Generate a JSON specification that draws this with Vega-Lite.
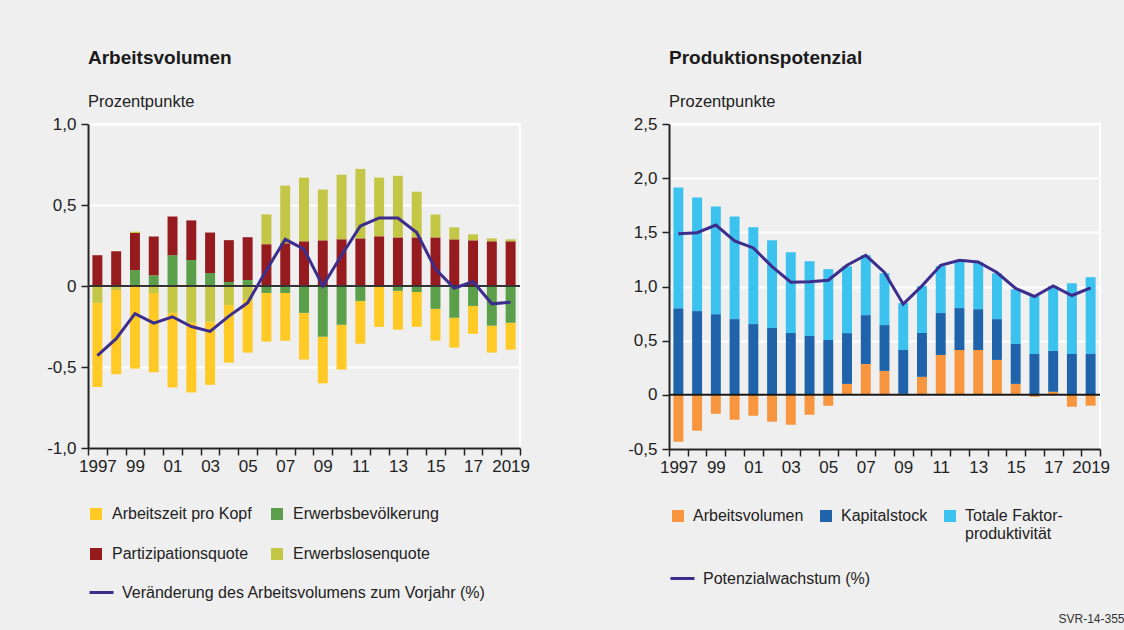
{
  "$schema": "https://vega.github.io/schema/vega-lite/v6.json",
  "background": "#efefef",
  "padding": {"left": 45, "top": 47, "right": 30, "bottom": 40},
  "datasets": {
    "arb": [
      {"year": 1997, "Arbeitszeit pro Kopf": -0.52, "Erwerbsbevölkerung": 0, "Partizipationsquote": 0.19, "Erwerbslosenquote": -0.104, "line": -0.43},
      {"year": 1998, "Arbeitszeit pro Kopf": -0.52, "Erwerbsbevölkerung": 0, "Partizipationsquote": 0.215, "Erwerbslosenquote": -0.025, "line": -0.325},
      {"year": 1999, "Arbeitszeit pro Kopf": -0.51, "Erwerbsbevölkerung": 0.098, "Partizipationsquote": 0.229, "Erwerbslosenquote": 0.008, "line": -0.17},
      {"year": 2000, "Arbeitszeit pro Kopf": -0.49, "Erwerbsbevölkerung": 0.067, "Partizipationsquote": 0.239, "Erwerbslosenquote": -0.043, "line": -0.229},
      {"year": 2001, "Arbeitszeit pro Kopf": -0.46, "Erwerbsbevölkerung": 0.19, "Partizipationsquote": 0.239, "Erwerbslosenquote": -0.166, "line": -0.19},
      {"year": 2002, "Arbeitszeit pro Kopf": -0.43, "Erwerbsbevölkerung": 0.16, "Partizipationsquote": 0.245, "Erwerbslosenquote": -0.227, "line": -0.25},
      {"year": 2003, "Arbeitszeit pro Kopf": -0.39, "Erwerbsbevölkerung": 0.08, "Partizipationsquote": 0.25, "Erwerbslosenquote": -0.22, "line": -0.28},
      {"year": 2004, "Arbeitszeit pro Kopf": -0.356, "Erwerbsbevölkerung": 0.025, "Partizipationsquote": 0.258, "Erwerbslosenquote": -0.117, "line": -0.186},
      {"year": 2005, "Arbeitszeit pro Kopf": -0.325, "Erwerbsbevölkerung": 0.037, "Partizipationsquote": 0.264, "Erwerbslosenquote": -0.086, "line": -0.104},
      {"year": 2006, "Arbeitszeit pro Kopf": -0.30, "Erwerbsbevölkerung": -0.043, "Partizipationsquote": 0.258, "Erwerbslosenquote": 0.184, "line": 0.098},
      {"year": 2007, "Arbeitszeit pro Kopf": -0.295, "Erwerbsbevölkerung": -0.043, "Partizipationsquote": 0.264, "Erwerbslosenquote": 0.356, "line": 0.288},
      {"year": 2008, "Arbeitszeit pro Kopf": -0.288, "Erwerbsbevölkerung": -0.166, "Partizipationsquote": 0.276, "Erwerbslosenquote": 0.393, "line": 0.227},
      {"year": 2009, "Arbeitszeit pro Kopf": -0.288, "Erwerbsbevölkerung": -0.313, "Partizipationsquote": 0.282, "Erwerbslosenquote": 0.313, "line": 0.0},
      {"year": 2010, "Arbeitszeit pro Kopf": -0.276, "Erwerbsbevölkerung": -0.239, "Partizipationsquote": 0.288, "Erwerbslosenquote": 0.399, "line": 0.19},
      {"year": 2011, "Arbeitszeit pro Kopf": -0.264, "Erwerbsbevölkerung": -0.092, "Partizipationsquote": 0.294, "Erwerbslosenquote": 0.429, "line": 0.37},
      {"year": 2012, "Arbeitszeit pro Kopf": -0.252, "Erwerbsbevölkerung": 0, "Partizipationsquote": 0.307, "Erwerbslosenquote": 0.362, "line": 0.42},
      {"year": 2013, "Arbeitszeit pro Kopf": -0.24, "Erwerbsbevölkerung": -0.03, "Partizipationsquote": 0.30, "Erwerbslosenquote": 0.38, "line": 0.42},
      {"year": 2014, "Arbeitszeit pro Kopf": -0.215, "Erwerbsbevölkerung": -0.037, "Partizipationsquote": 0.30, "Erwerbslosenquote": 0.282, "line": 0.33},
      {"year": 2015, "Arbeitszeit pro Kopf": -0.196, "Erwerbsbevölkerung": -0.141, "Partizipationsquote": 0.30, "Erwerbslosenquote": 0.141, "line": 0.104},
      {"year": 2016, "Arbeitszeit pro Kopf": -0.184, "Erwerbsbevölkerung": -0.196, "Partizipationsquote": 0.288, "Erwerbslosenquote": 0.074, "line": -0.014},
      {"year": 2017, "Arbeitszeit pro Kopf": -0.172, "Erwerbsbevölkerung": -0.123, "Partizipationsquote": 0.282, "Erwerbslosenquote": 0.037, "line": 0.027},
      {"year": 2018, "Arbeitszeit pro Kopf": -0.166, "Erwerbsbevölkerung": -0.245, "Partizipationsquote": 0.276, "Erwerbslosenquote": 0.018, "line": -0.11},
      {"year": 2019, "Arbeitszeit pro Kopf": -0.166, "Erwerbsbevölkerung": -0.227, "Partizipationsquote": 0.276, "Erwerbslosenquote": 0.012, "line": -0.10}
    ],
    "pot": [
      {"year": 1997, "Arbeitsvolumen": -0.433, "Kapitalstock": 0.80, "Totale Faktorproduktivität": 1.114, "line": 1.488},
      {"year": 1998, "Arbeitsvolumen": -0.331, "Kapitalstock": 0.773, "Totale Faktorproduktivität": 1.049, "line": 1.497},
      {"year": 1999, "Arbeitsvolumen": -0.175, "Kapitalstock": 0.745, "Totale Faktorproduktivität": 0.994, "line": 1.567},
      {"year": 2000, "Arbeitsvolumen": -0.23, "Kapitalstock": 0.699, "Totale Faktorproduktivität": 0.948, "line": 1.42},
      {"year": 2001, "Arbeitsvolumen": -0.193, "Kapitalstock": 0.653, "Totale Faktorproduktivität": 0.893, "line": 1.356},
      {"year": 2002, "Arbeitsvolumen": -0.248, "Kapitalstock": 0.617, "Totale Faktorproduktivität": 0.81, "line": 1.184},
      {"year": 2003, "Arbeitsvolumen": -0.276, "Kapitalstock": 0.571, "Totale Faktorproduktivität": 0.745, "line": 1.04},
      {"year": 2004, "Arbeitsvolumen": -0.184, "Kapitalstock": 0.543, "Totale Faktorproduktivität": 0.69, "line": 1.043},
      {"year": 2005, "Arbeitsvolumen": -0.101, "Kapitalstock": 0.506, "Totale Faktorproduktivität": 0.654, "line": 1.058},
      {"year": 2006, "Arbeitsvolumen": 0.101, "Kapitalstock": 0.469, "Totale Faktorproduktivität": 0.617, "line": 1.196},
      {"year": 2007, "Arbeitsvolumen": 0.285, "Kapitalstock": 0.451, "Totale Faktorproduktivität": 0.552, "line": 1.288},
      {"year": 2008, "Arbeitsvolumen": 0.221, "Kapitalstock": 0.423, "Totale Faktorproduktivität": 0.479, "line": 1.13},
      {"year": 2009, "Arbeitsvolumen": 0.009, "Kapitalstock": 0.405, "Totale Faktorproduktivität": 0.433, "line": 0.837},
      {"year": 2010, "Arbeitsvolumen": 0.166, "Kapitalstock": 0.405, "Totale Faktorproduktivität": 0.433, "line": 1.006},
      {"year": 2011, "Arbeitsvolumen": 0.368, "Kapitalstock": 0.387, "Totale Faktorproduktivität": 0.433, "line": 1.196},
      {"year": 2012, "Arbeitsvolumen": 0.414, "Kapitalstock": 0.387, "Totale Faktorproduktivität": 0.433, "line": 1.242},
      {"year": 2013, "Arbeitsvolumen": 0.414, "Kapitalstock": 0.377, "Totale Faktorproduktivität": 0.433, "line": 1.227},
      {"year": 2014, "Arbeitsvolumen": 0.322, "Kapitalstock": 0.377, "Totale Faktorproduktivität": 0.423, "line": 1.129},
      {"year": 2015, "Arbeitsvolumen": 0.101, "Kapitalstock": 0.368, "Totale Faktorproduktivität": 0.506, "line": 0.982},
      {"year": 2016, "Arbeitsvolumen": -0.018, "Kapitalstock": 0.377, "Totale Faktorproduktivität": 0.534, "line": 0.908},
      {"year": 2017, "Arbeitsvolumen": 0.028, "Kapitalstock": 0.377, "Totale Faktorproduktivität": 0.598, "line": 1.006},
      {"year": 2018, "Arbeitsvolumen": -0.11, "Kapitalstock": 0.377, "Totale Faktorproduktivität": 0.653, "line": 0.917},
      {"year": 2019, "Arbeitsvolumen": -0.10, "Kapitalstock": 0.377, "Totale Faktorproduktivität": 0.709, "line": 0.988}
    ]
  },
  "title": {"text": "SVR-14-355", "orient": "bottom", "anchor": "end", "fontSize": 12, "fontWeight": "normal", "color": "#333", "offset": 12, "dx": 14},
  "spacing": 149,
  "bounds": "flush",
  "resolve": {
    "scale": {"color": "independent", "stroke": "independent", "x": "independent", "y": "independent"},
    "legend": {"color": "independent", "stroke": "independent"}
  },
  "hconcat": [
    {
      "width": 432,
      "height": 324,
      "title": {"text": "Arbeitsvolumen", "subtitle": "Prozentpunkte", "anchor": "start", "frame": "group"},
      "layer": [
        {
          "data": {"name": "arb"},
          "transform": [
            {"fold": ["Arbeitszeit pro Kopf", "Erwerbsbevölkerung", "Partizipationsquote", "Erwerbslosenquote"], "as": ["series", "value"]},
            {"calculate": "indexof(['Erwerbsbevölkerung','Partizipationsquote','Erwerbslosenquote','Arbeitszeit pro Kopf'], datum.series)", "as": "stackOrder"}
          ],
          "mark": {"type": "bar", "width": {"band": 0.53}},
          "encoding": {
            "x": {
              "field": "year", "type": "ordinal",
              "scale": {"paddingInner": 0, "paddingOuter": 0},
              "axis": {"labelExpr": "datum.value == 1997 || datum.value == 2019 ? '' + datum.value : (datum.value % 2 == 1 ? substring('' + datum.value, 2) : '')"}
            },
            "y": {
              "field": "value", "type": "quantitative",
              "scale": {"domain": [-1, 1], "nice": false, "zero": false},
              "axis": {"values": [-1, -0.5, 0, 0.5, 1]}
            },
            "color": {
              "field": "series", "type": "nominal",
              "scale": {
                "domain": ["Arbeitszeit pro Kopf", "Partizipationsquote", "Erwerbsbevölkerung", "Erwerbslosenquote"],
                "range": ["#ffc926", "#961b1f", "#5b9f4a", "#c3c745"]
              },
              "legend": {"orient": "none", "legendX": 0, "legendY": 382, "columns": 2, "columnPadding": 17, "rowPadding": 24, "symbolType": "square", "symbolSize": 144, "symbolStrokeWidth": 0, "labelOffset": 8, "title": null}
            },
            "order": {"field": "stackOrder", "type": "quantitative"}
          }
        },
        {
          "data": {"values": [{}]},
          "mark": {"type": "rule", "color": "#333333", "strokeWidth": 2},
          "encoding": {"y": {"datum": 0, "type": "quantitative"}}
        },
        {
          "data": {"name": "arb"},
          "mark": {"type": "line", "strokeWidth": 3},
          "encoding": {
            "x": {"field": "year", "type": "ordinal"},
            "y": {"field": "line", "type": "quantitative"},
            "stroke": {
              "datum": "Veränderung des Arbeitsvolumens zum Vorjahr (%)",
              "scale": {"range": ["#3d2d8c"]},
              "legend": {"orient": "none", "legendX": 0, "legendY": 455, "symbolType": "stroke", "symbolSize": 576, "symbolStrokeWidth": 3, "labelOffset": 7, "title": null}
            }
          }
        }
      ]
    },
    {
      "width": 431,
      "height": 325,
      "title": {"text": "Produktionspotenzial", "subtitle": "Prozentpunkte", "anchor": "start", "frame": "group"},
      "layer": [
        {
          "data": {"name": "pot"},
          "transform": [
            {"fold": ["Arbeitsvolumen", "Kapitalstock", "Totale Faktorproduktivität"], "as": ["series", "value"]},
            {"calculate": "indexof(['Arbeitsvolumen','Kapitalstock','Totale Faktorproduktivität'], datum.series)", "as": "stackOrder"}
          ],
          "mark": {"type": "bar", "width": {"band": 0.53}},
          "encoding": {
            "x": {
              "field": "year", "type": "ordinal",
              "scale": {"paddingInner": 0, "paddingOuter": 0},
              "axis": {"labelExpr": "datum.value == 1997 || datum.value == 2019 ? '' + datum.value : (datum.value % 2 == 1 ? substring('' + datum.value, 2) : '')"}
            },
            "y": {
              "field": "value", "type": "quantitative",
              "scale": {"domain": [-0.5, 2.5], "nice": false, "zero": false},
              "axis": {"values": [-0.5, 0, 0.5, 1, 1.5, 2, 2.5]}
            },
            "color": {
              "field": "series", "type": "nominal",
              "scale": {
                "domain": ["Arbeitsvolumen", "Kapitalstock", "Totale Faktorproduktivität"],
                "range": ["#f7963f", "#1f64ab", "#3cc2ef"]
              },
              "legend": {"orient": "none", "legendX": 1, "legendY": 384, "columns": 3, "columnPadding": 14, "rowPadding": 22, "symbolType": "square", "symbolSize": 144, "symbolStrokeWidth": 0, "labelOffset": 7, "title": null,
                "labelExpr": "datum.label == 'Totale Faktorproduktivität' ? ['Totale Faktor-', 'produktivität'] : [datum.label, '']"}
            },
            "order": {"field": "stackOrder", "type": "quantitative"}
          }
        },
        {
          "data": {"values": [{}]},
          "mark": {"type": "rule", "color": "#1a1a1a", "strokeWidth": 2},
          "encoding": {"y": {"datum": 0, "type": "quantitative"}}
        },
        {
          "data": {"name": "pot"},
          "mark": {"type": "line", "strokeWidth": 3},
          "encoding": {
            "x": {"field": "year", "type": "ordinal"},
            "y": {"field": "line", "type": "quantitative"},
            "stroke": {
              "datum": "Potenzialwachstum (%)",
              "scale": {"range": ["#3d2d8c"]},
              "legend": {"orient": "none", "legendX": 0, "legendY": 441, "symbolType": "stroke", "symbolSize": 576, "symbolStrokeWidth": 3, "labelOffset": 7, "title": null}
            }
          }
        }
      ]
    }
  ],
  "config": {
    "font": "Liberation Sans",
    "view": {"stroke": "#ffffff", "strokeWidth": 2},
    "title": {"fontSize": 19, "fontWeight": "bold", "color": "#1a1a1a", "subtitleFontSize": 16.5, "subtitleColor": "#222222", "subtitlePadding": 26, "offset": 5},
    "axis": {"title": null, "labelFontSize": 17, "labelColor": "#222222", "domainColor": "#222222", "domainWidth": 2, "tickColor": "#222222", "tickWidth": 1.5, "tickSize": 7, "labelPadding": 5},
    "axisX": {"tickBand": "extent", "labelAngle": 0, "labelOverlap": false, "grid": false, "labelPadding": 3},
    "axisY": {"grid": true, "gridColor": "#ffffff", "gridWidth": 2, "labelExpr": "datum.value == 0 ? '0' : (datum.value < 0 ? '-' : '') + replace(format(abs(datum.value), '.1f'), '.', ',')"},
    "legend": {"labelFontSize": 16, "labelColor": "#222222", "labelLimit": 400}
  }
}
